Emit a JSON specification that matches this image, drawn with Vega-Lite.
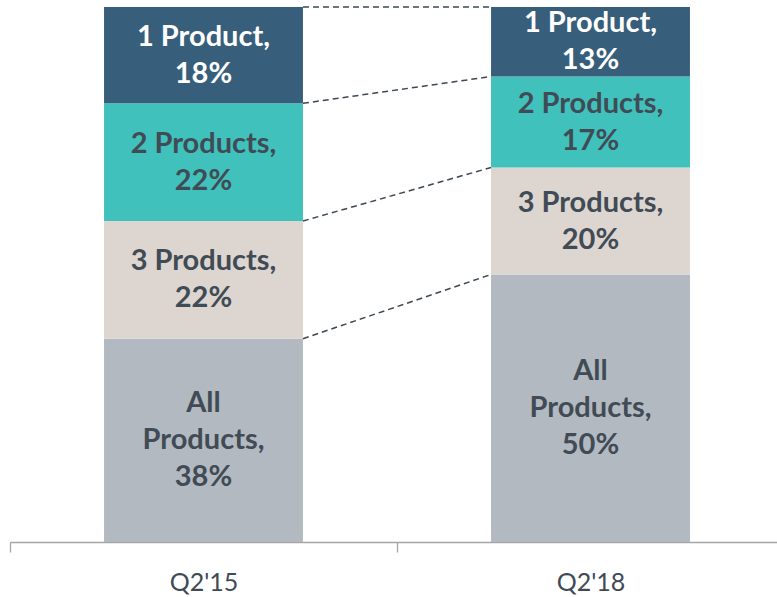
{
  "$schema": "https://vega.github.io/schema/vega-lite/v6.json",
  "width": 767,
  "height": 535,
  "autosize": {"type": "none"},
  "padding": {"left": 10, "top": 7, "right": 0, "bottom": 55},
  "config": {"view": {"stroke": null}, "font": "Lato"},
  "datasets": {
    "segments": [
      {"period": "Q2'15", "cat": "All Products", "rank": 1, "value": 38, "label": "All\nProducts,\n38%"},
      {"period": "Q2'15", "cat": "3 Products", "rank": 2, "value": 22, "label": "3 Products,\n22%"},
      {"period": "Q2'15", "cat": "2 Products", "rank": 3, "value": 22, "label": "2 Products,\n22%"},
      {"period": "Q2'15", "cat": "1 Product", "rank": 4, "value": 18, "label": "1 Product,\n18%"},
      {"period": "Q2'18", "cat": "All Products", "rank": 1, "value": 50, "label": "All\nProducts,\n50%"},
      {"period": "Q2'18", "cat": "3 Products", "rank": 2, "value": 20, "label": "3 Products,\n20%"},
      {"period": "Q2'18", "cat": "2 Products", "rank": 3, "value": 17, "label": "2 Products,\n17%"},
      {"period": "Q2'18", "cat": "1 Product", "rank": 4, "value": 13, "label": "1 Product,\n13%"}
    ],
    "links": [
      {"from": "Q2'15", "to": "Q2'18", "yl": 100, "yr": 100},
      {"from": "Q2'15", "to": "Q2'18", "yl": 82, "yr": 87},
      {"from": "Q2'15", "to": "Q2'18", "yl": 60, "yr": 70},
      {"from": "Q2'15", "to": "Q2'18", "yl": 38, "yr": 50}
    ]
  },
  "layer": [
    {
      "data": {"name": "segments"},
      "transform": [
        {"stack": "value", "groupby": ["period"], "sort": [{"field": "rank"}], "as": ["y0", "y1"]}
      ],
      "mark": {"type": "bar"},
      "encoding": {
        "x": {
          "field": "period", "type": "nominal",
          "scale": {"domain": ["Q2'15", "Q2'18"], "range": [0, 774], "paddingInner": 0.486, "paddingOuter": 0.243},
          "axis": {
            "title": null, "labelAngle": 0, "tickOffset": -193.5, "labelOffset": 193.5,
            "domainColor": "#a6a6a6", "tickColor": "#a6a6a6", "tickSize": 10, "domainWidth": 1.3, "tickWidth": 1.3,
            "labelFont": "Lato", "labelFontSize": 25, "labelColor": "#3f4a55", "labelPadding": 18
          }
        },
        "y": {"field": "y0", "type": "quantitative", "scale": {"domain": [0, 100], "nice": false}, "axis": null},
        "y2": {"field": "y1"},
        "color": {
          "field": "cat", "type": "nominal", "legend": null,
          "scale": {"domain": ["All Products", "3 Products", "2 Products", "1 Product"], "range": ["#b2b9c0", "#ddd6d0", "#40c1bc", "#375e7a"]}
        }
      }
    },
    {
      "data": {"name": "segments"},
      "transform": [
        {"stack": "value", "groupby": ["period"], "sort": [{"field": "rank"}], "as": ["y0", "y1"]},
        {"calculate": "(datum.y0 + datum.y1) / 2", "as": "mid"},
        {"filter": "datum.cat !== 'All Products'"}
      ],
      "mark": {"type": "text", "fontWeight": "bold", "fontSize": 29, "font": "Lato", "lineBreak": "\n", "lineHeight": 37, "baseline": "middle", "align": "center", "dy": -18.5},
      "encoding": {
        "x": {"field": "period", "type": "nominal"},
        "y": {"field": "mid", "type": "quantitative"},
        "text": {"field": "label"},
        "color": {"condition": {"test": "datum.cat === '1 Product'", "value": "#ffffff"}, "value": "#414b55"}
      }
    },
    {
      "data": {"name": "segments"},
      "transform": [
        {"stack": "value", "groupby": ["period"], "sort": [{"field": "rank"}], "as": ["y0", "y1"]},
        {"calculate": "(datum.y0 + datum.y1) / 2", "as": "mid"},
        {"filter": "datum.cat === 'All Products'"}
      ],
      "mark": {"type": "text", "fontWeight": "bold", "fontSize": 29, "font": "Lato", "lineBreak": "\n", "lineHeight": 37, "baseline": "middle", "align": "center", "dy": -37, "color": "#414b55"},
      "encoding": {
        "x": {"field": "period", "type": "nominal"},
        "y": {"field": "mid", "type": "quantitative"},
        "text": {"field": "label"}
      }
    },
    {
      "data": {"name": "links"},
      "mark": {"type": "rule", "strokeDash": [6, 4], "strokeWidth": 1.5, "color": "#3d4852"},
      "encoding": {
        "x": {"field": "from", "type": "nominal", "bandPosition": 1},
        "x2": {"field": "to", "bandPosition": 0},
        "y": {"field": "yl", "type": "quantitative"},
        "y2": {"field": "yr"}
      }
    }
  ]
}
